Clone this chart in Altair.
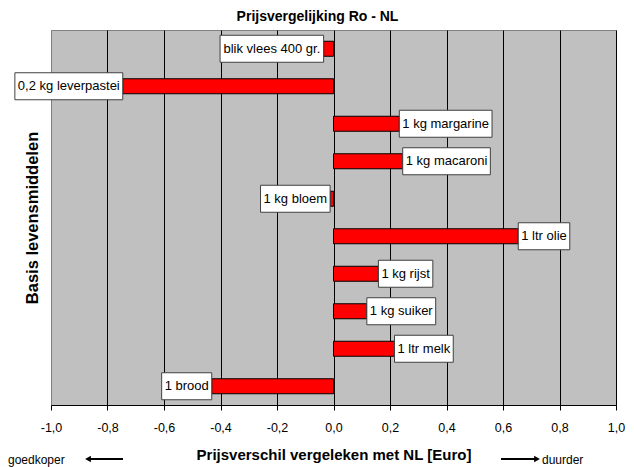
import altair as alt
import pandas as pd

# ---- data ----
items = ["blik vlees 400 gr.", "0,2 kg leverpastei", "1 kg margarine", "1 kg macaroni",
         "1 kg bloem", "1 ltr olie", "1 kg rijst", "1 kg suiker", "1 ltr melk", "1 brood"]
diffs = [-0.035, -0.746, 0.233, 0.245, -0.012, 0.654, 0.159, 0.118, 0.216, -0.431]
x_ticks = [-1.0, -0.8, -0.6, -0.4, -0.2, 0.0, 0.2, 0.4, 0.6, 0.8, 1.0]
chart_title = "Prijsvergelijking Ro - NL"
x_title = "Prijsverschil vergeleken met NL [Euro]"
y_title = "Basis levensmiddelen"
left_note = ["goedkoper"]
right_note = ["duurder"]

FONT = "Liberation Sans, Arial, Helvetica, sans-serif"
PLOT_W, PLOT_H = 565, 375
LABEL_FS = 13
PX_PER_UNIT = PLOT_W / 2.0

# Arial / Liberation Sans advance widths (per 1000 em) to size the label boxes
CW = {" ": 278, ",": 278, ".": 278, "a": 556, "b": 556, "c": 500, "d": 556, "e": 556,
      "f": 278, "g": 556, "h": 556, "i": 222, "j": 222, "k": 500, "l": 222, "m": 833,
      "n": 556, "o": 556, "p": 556, "r": 333, "s": 500, "t": 278, "u": 556, "v": 500}


def text_px(s):
    return sum(CW.get(c, 556) for c in s) * LABEL_FS / 1000.0


df = pd.DataFrame({"item": items, "diff": diffs})
df["boxpx"] = [text_px(s) + 6 for s in items]

y_enc = alt.Y("item:N", sort=items,
              scale=alt.Scale(paddingInner=0, paddingOuter=0),
              axis=alt.Axis(title=y_title, labels=False, ticks=False, domain=False, grid=False,
                            titleFont=FONT, titleFontSize=16.5, titleFontWeight="bold",
                            titleColor="black", titleX=-19, titleY=PLOT_H / 2,
                            titleAngle=270, titleAlign="center", titleBaseline="middle"))

x_scale = alt.Scale(domain=[-1, 1], nice=False, zero=False)
x_axis = alt.Axis(values=x_ticks,
                  labelExpr="(datum.value < 0 ? '-' : '') + replace(format(abs(datum.value), '.1f'), '.', ',')",
                  grid=True,
                  gridColor={"condition": {"test": "datum.value <= -0.99", "value": "#808080"},
                             "value": "#000000"},
                  gridOpacity=1, gridWidth=1,
                  domainColor="black", domainWidth=1, tickColor="black", tickSize=5,
                  labelFont=FONT, labelFontSize=12.5, labelColor="black", labelPadding=11,
                  labelFlush=False,
                  title=x_title, titleFont=FONT, titleFontSize=15, titleFontWeight="bold",
                  titleColor="black", titleY=49, titleBaseline="middle")

bars = alt.Chart(df).mark_bar(size=15, color="#FF0000", stroke="black", strokeWidth=1).encode(
    x=alt.X("diff:Q", scale=x_scale, axis=x_axis),
    x2=alt.datum(0),
    y=y_enc,
)

boxed = alt.Chart(df).transform_calculate(
    sgn="datum.diff < 0 ? -1 : 1",
    bw=f"datum.boxpx / {PX_PER_UNIT}",
).transform_calculate(
    bx1="datum.diff",
    bx2="datum.diff + datum.sgn * datum.bw",
    tx="datum.diff + datum.sgn * datum.bw / 2",
)

boxes = boxed.mark_bar(size=27, fill="white", stroke="#404040", strokeWidth=1).encode(
    x=alt.X("bx1:Q", scale=x_scale),
    x2="bx2:Q",
    y=alt.Y("item:N", sort=items),
)

labels = boxed.mark_text(font=FONT, fontSize=LABEL_FS, color="black", align="center",
                         baseline="middle").encode(
    x=alt.X("tx:Q", scale=x_scale),
    y=alt.Y("item:N", sort=items),
    text="item:N",
)

NOTE_Y = 430
left_txt = alt.Chart(pd.DataFrame({"t": left_note})).mark_text(
    font=FONT, fontSize=12, color="black", align="left", baseline="middle").encode(
    x=alt.value(-43), y=alt.value(NOTE_Y), text="t:N")
right_txt = alt.Chart(pd.DataFrame({"t": right_note})).mark_text(
    font=FONT, fontSize=12, color="black", align="left", baseline="middle").encode(
    x=alt.value(491), y=alt.value(NOTE_Y), text="t:N")

one = pd.DataFrame({"k": [0]})
left_line = alt.Chart(one).mark_rule(color="black", strokeWidth=2).encode(
    x=alt.value(38), x2=alt.value(72), y=alt.value(NOTE_Y - 1))
left_head = alt.Chart(one).mark_point(shape="triangle-left", filled=True, size=45,
                                      color="black", opacity=1).encode(
    x=alt.value(37), y=alt.value(NOTE_Y - 1))
right_line = alt.Chart(one).mark_rule(color="black", strokeWidth=2).encode(
    x=alt.value(450), x2=alt.value(485), y=alt.value(NOTE_Y - 1))
right_head = alt.Chart(one).mark_point(shape="triangle-right", filled=True, size=45,
                                       color="black", opacity=1).encode(
    x=alt.value(486), y=alt.value(NOTE_Y - 1))

chart = alt.layer(bars, boxes, labels, left_txt, right_txt,
                  left_line, left_head, right_line, right_head).properties(
    width=PLOT_W, height=PLOT_H,
    title=alt.TitleParams(chart_title, font=FONT, fontSize=14, fontWeight="bold",
                          color="black", anchor="middle", dx=-16, offset=6),
    autosize=alt.AutoSizeParams(type="none"),
    padding={"left": 43, "top": 22, "right": 10, "bottom": 62},
    background="white",
).configure_view(fill="#C0C0C0", stroke="#808080", strokeWidth=1)

chart.save("out.html", embed_options={"renderer": "svg", "actions": False})
